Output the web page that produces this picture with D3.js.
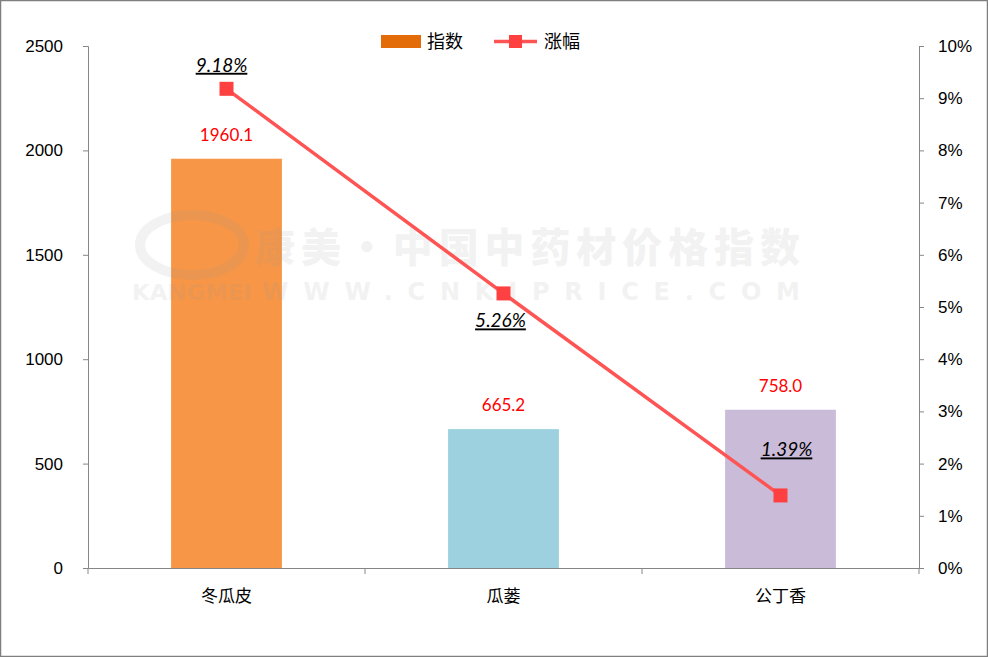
<!DOCTYPE html>
<html><head><meta charset="utf-8">
<script src="https://cdn.jsdelivr.net/npm/d3@7"></script>
<style>
html,body{margin:0;padding:0;background:#fff;}
svg{display:block;font-family:Lato,"Noto Sans CJK SC",sans-serif;}
</style></head>
<body><svg id="chart" width="988" height="657"></svg>
<script>
const categories = ["冬瓜皮", "瓜蒌", "公丁香"];
const indexValues = [1960.1, 665.2, 758.0];
const changeValues = [0.0918, 0.0526, 0.0139];
const changeLabels = ["9.18%", "5.26%", "1.39%"];
const barColors = ["#F79646", "#9DD1DF", "#CABCD8"];
const leftTicks = [0, 500, 1000, 1500, 2000, 2500];
const rightTicks = [0, 0.01, 0.02, 0.03, 0.04, 0.05, 0.06, 0.07, 0.08, 0.09, 0.10];
const seriesNames = ["指数", "涨幅"];

const svg = d3.select("#chart");
const W = 988, H = 657;
const plot = {left: 88, right: 919, top: 46, bottom: 568};
const axisColor = "#868686";
const cjk = "'Noto Sans CJK SC', sans-serif";

svg.append("rect").attr("x",0.5).attr("y",0.5).attr("width",W-1).attr("height",H-1)
  .attr("fill","#fff").attr("stroke","#7f7f7f").attr("stroke-width",1.5);

const x = d3.scaleBand().domain(categories).range([plot.left, plot.right]).paddingInner(0.6).paddingOuter(0.3);
const xb = d3.scaleBand().domain(categories).range([plot.left, plot.right]);
const yL = d3.scaleLinear().domain([0, 2500]).range([plot.bottom, plot.top]);
const yR = d3.scaleLinear().domain([0, 0.10]).range([plot.bottom, plot.top]);

// bars
svg.append("g").selectAll("rect").data(categories).join("rect")
  .attr("x", d => x(d)).attr("width", x.bandwidth())
  .attr("y", (d,i) => yL(indexValues[i])).attr("height", (d,i) => plot.bottom - yL(indexValues[i]))
  .attr("fill", (d,i) => barColors[i]);

// watermark
const wm = svg.append("g").attr("fill", "#999").attr("opacity", 0.12);
wm.append("text").attr("x", 255).attr("y", 262).attr("font-size", 40).attr("font-weight", 900)
  .attr("font-family", cjk).attr("textLength", 545).text("康美·中国中药材价格指数");
wm.append("text").attr("x", 132).attr("y", 300).attr("font-size", 22).attr("font-weight", 900)
  .attr("font-family", "'DejaVu Sans', sans-serif").attr("textLength", 120).attr("lengthAdjust","spacingAndGlyphs").text("KANGMEI");
wm.append("text").attr("x", 262).attr("y", 300).attr("font-size", 24).attr("font-weight", 900)
  .attr("font-family", "'DejaVu Sans', sans-serif").attr("textLength", 538).text("WWW.CNKIPRICE.COM");
wm.append("ellipse").attr("cx", 192).attr("cy", 245).attr("rx", 52).attr("ry", 30)
  .attr("fill", "none").attr("stroke", "#999").attr("stroke-width", 10);

// axes
const axL = svg.append("g").attr("transform", `translate(${plot.left},0)`)
  .call(d3.axisLeft(yL).tickValues(leftTicks).tickSize(5).tickPadding(20).tickFormat(d3.format("d")));
const axR = svg.append("g").attr("transform", `translate(${plot.right},0)`)
  .call(d3.axisRight(yR).tickValues(rightTicks).tickSize(5).tickPadding(14).tickFormat(d => Math.round(d*100) + "%"));
const axX = svg.append("g").attr("transform", `translate(0,${plot.bottom})`)
  .call(d3.axisBottom(xb).tickSize(0).tickPadding(22));
axX.selectAll(".tick text").attr("font-family", cjk);
// category boundary ticks
const bounds = [plot.left].concat(categories.map(c => xb(c) + xb.bandwidth()));
svg.append("g").selectAll("line").data(bounds).join("line")
  .attr("x1", d => d).attr("x2", d => d).attr("y1", plot.bottom).attr("y2", plot.bottom + 6)
  .attr("stroke", axisColor);
[axL, axR, axX].forEach(a => {
  a.selectAll("path,line").attr("stroke", axisColor);
  a.selectAll("text").attr("fill", "#000").attr("font-size", 17);
});

// line
const cx = c => xb(c) + xb.bandwidth()/2;
const line = d3.line().x((d,i) => cx(categories[i])).y(d => yR(d));
svg.append("path").datum(changeValues).attr("d", line)
  .attr("fill", "none").attr("stroke", "#FF5454").attr("stroke-width", 3.5);
svg.append("g").selectAll("rect").data(changeValues).join("rect")
  .attr("x", (d,i) => cx(categories[i]) - 7).attr("y", d => yR(d) - 7)
  .attr("width", 14).attr("height", 14).attr("fill", "#FF4040");

// bar value labels
svg.append("g").selectAll("text").data(indexValues).join("text")
  .attr("x", (d,i) => cx(categories[i])).attr("y", d => yL(d) - 18)
  .attr("text-anchor", "middle").attr("font-size", 17).attr("fill", "#FF0000")
  .text(d => d.toFixed(1));

// percent labels
const pctOffset = [-17, 34, -39];
const pctDx = [-5, -3, 6];
svg.append("g").selectAll("text").data(changeValues).join("text")
  .attr("x", (d,i) => cx(categories[i]) + pctDx[i]).attr("y", (d,i) => yR(d) + pctOffset[i])
  .attr("text-anchor", "middle").attr("font-size", 19).attr("font-style", "italic")
  .attr("text-decoration", "underline").attr("fill", "#000")
  .text((d,i) => changeLabels[i]);

// legend
const lg = svg.append("g").attr("font-family", cjk).attr("font-size", 18);
lg.append("rect").attr("x", 381).attr("y", 35).attr("width", 40).attr("height", 13).attr("fill", "#E36C09");
lg.append("text").attr("x", 427).attr("y", 48).text(seriesNames[0]);
lg.append("line").attr("x1", 494).attr("x2", 537).attr("y1", 41.5).attr("y2", 41.5)
  .attr("stroke", "#FF5454").attr("stroke-width", 3.5);
lg.append("rect").attr("x", 509).attr("y", 35).attr("width", 13).attr("height", 13).attr("fill", "#FF4040");
lg.append("text").attr("x", 544).attr("y", 48).text(seriesNames[1]);
</script>
</body></html>
